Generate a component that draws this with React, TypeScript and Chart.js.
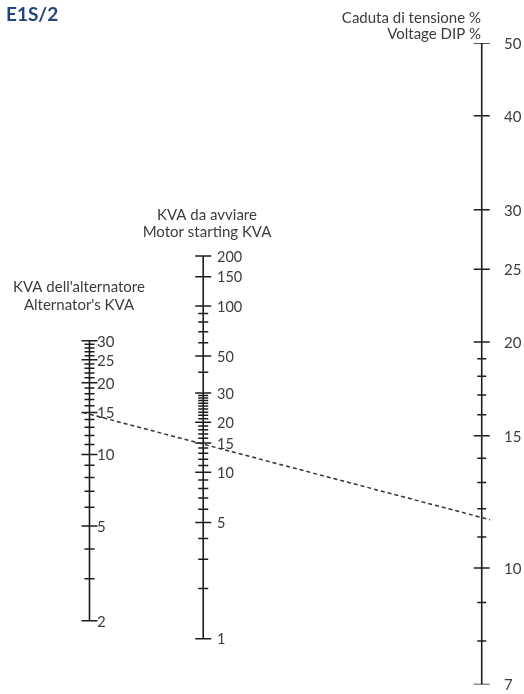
import React, { useEffect, useRef } from "react";
import { Chart, registerables } from "chart.js";

Chart.register(...registerables);

// ---- Data ----
const ALT_TICKS = [2, 3, 4, 5, 6, 7, 8, 9, 10, 11, 12, 13, 14, 15, 16, 17, 18, 19, 20, 21, 22, 23, 24, 25, 26, 27, 28, 29, 30];
const ALT_LABELS = [2, 5, 10, 15, 20, 25, 30];

const MOTOR_TICKS = [1, 2, 3, 4, 5, 6, 7, 8, 9, 10, 11, 12, 13, 14, 15, 16, 17, 18, 19, 20, 21, 22, 23, 24, 25, 26, 27, 28, 29, 30, 40, 50, 60, 70, 80, 90, 100, 150, 200];
const MOTOR_LABELS = [1, 5, 10, 15, 20, 30, 50, 100, 150, 200];

const DIP_TICKS = [7, 8, 9, 10, 11, 12, 13, 14, 15, 16, 17, 18, 19, 20, 25, 30, 40, 50];
const DIP_LABELS = [7, 10, 15, 20, 25, 30, 40, 50];

const EXAMPLE_ALT = 15;
const EXAMPLE_DIP = 11.6;

// ---- Layout constants ----
const W = 524;
const H = 694;
const X_ALT = 83;
const X_MOTOR = 201;
const X_DIP = 490;

const LINE = "#1c1c1c";
const TEXT = "#3c3c3c";
const FONT = "Lato, 'Noto Sans', sans-serif";

type AxisDef = { id: string; x: number; ticks: number[]; labels: number[]; off: number; size: number };
const AXES: AxisDef[] = [
  { id: "yA", x: X_ALT, ticks: ALT_TICKS, labels: ALT_LABELS, off: 14, size: 15 },
  { id: "yM", x: X_MOTOR, ticks: MOTOR_TICKS, labels: MOTOR_LABELS, off: 16, size: 14.5 },
  { id: "yD", x: X_DIP, ticks: DIP_TICKS, labels: DIP_LABELS, off: 14, size: 15 },
];

const textPlugin = {
  id: "nomoText",
  afterDatasetsDraw(chart: any) {
    const ctx = chart.ctx as CanvasRenderingContext2D;
    ctx.save();
    // isopleth
    const ya = chart.scales.yA.getPixelForValue(EXAMPLE_ALT);
    const yd = chart.scales.yD.getPixelForValue(EXAMPLE_DIP);
    ctx.strokeStyle = "#333333";
    ctx.lineWidth = 1.5;
    ctx.setLineDash([4, 3]);
    ctx.beginPath();
    ctx.moveTo(X_ALT, ya);
    ctx.lineTo(X_DIP, yd);
    ctx.stroke();
    ctx.setLineDash([]);

    // tick labels
    ctx.fillStyle = TEXT;
    ctx.textBaseline = "middle";
    ctx.textAlign = "left";
    for (const a of AXES) {
      ctx.font = `${a.size}px ${FONT}`;
      const sc = chart.scales[a.id];
      for (const v of a.labels) {
        ctx.fillText(String(v), a.x + a.off, sc.getPixelForValue(v) + 1);
      }
    }

    // titles
    ctx.font = `15px ${FONT}`;
    ctx.textAlign = "center";
    ctx.fillText("KVA dell'alternatore", 79, 287);
    ctx.fillText("Alternator's KVA", 79, 305);
    ctx.fillText("KVA da avviare", 207, 215);
    ctx.fillText("Motor starting KVA", 207, 232);
    ctx.textAlign = "right";
    ctx.fillText("Caduta di tensione %", 481, 18);
    ctx.fillText("Voltage DIP %", 481, 34);

    ctx.font = `bold 19px ${FONT}`;
    ctx.textAlign = "left";
    ctx.fillStyle = "#23457c";
    ctx.fillText("E1S/2", 6, 15);
    ctx.restore();
  },
};

function axisLine(def: AxisDef) {
  return {
    type: "scatter" as const,
    showLine: true,
    yAxisID: def.id,
    data: [
      { x: def.x, y: def.ticks[0] },
      { x: def.x, y: def.ticks[def.ticks.length - 1] },
    ],
    borderColor: LINE,
    borderWidth: 1.6,
    pointRadius: 0,
  };
}

function tickSet(def: AxisDef, major: boolean, r: number) {
  const vals = def.ticks.filter((v) => def.labels.includes(v) === major);
  return {
    type: "scatter" as const,
    yAxisID: def.id,
    data: vals.map((v) => ({ x: def.x, y: v })),
    pointStyle: "line",
    pointRadius: r,
    pointHoverRadius: r,
    borderColor: LINE,
    pointBorderColor: LINE,
    pointBorderWidth: 1.5,
    showLine: false,
  };
}

export default function App() {
  const ref = useRef<HTMLCanvasElement | null>(null);
  useEffect(() => {
    if (!ref.current) return;
    const datasets: any[] = [];
    for (const a of AXES) {
      datasets.push(axisLine(a));
      datasets.push(tickSet(a, true, 8));
      datasets.push(tickSet(a, false, a.id === "yD" ? 4.5 : 5));
    }
    const chart = new Chart(ref.current, {
      type: "scatter",
      data: { datasets },
      options: {
        animation: false,
        responsive: false,
        maintainAspectRatio: false,
        devicePixelRatio: 1,
        layout: { padding: { top: 43, bottom: H - 687, left: 0, right: 0 } },
        plugins: { legend: { display: false }, tooltip: { enabled: false }, title: { display: false } },
        events: [],
        scales: {
          x: { type: "linear", min: 0, max: W, display: false },
          yA: { type: "logarithmic", position: "left", min: 1.079, max: 535.6, display: false },
          yM: { type: "logarithmic", position: "left", min: 0.5302, max: 3809, display: false },
          yD: { type: "logarithmic", position: "right", min: 7, max: 50, display: false },
        },
      },
      plugins: [textPlugin],
    });
    return () => chart.destroy();
  }, []);
  return (
    <div style={{ position: "fixed", left: 0, top: 0, width: W, height: H, background: "#fff" }}>
      <canvas ref={ref} width={W} height={H} style={{ display: "block", width: W, height: H }} />
    </div>
  );
}
